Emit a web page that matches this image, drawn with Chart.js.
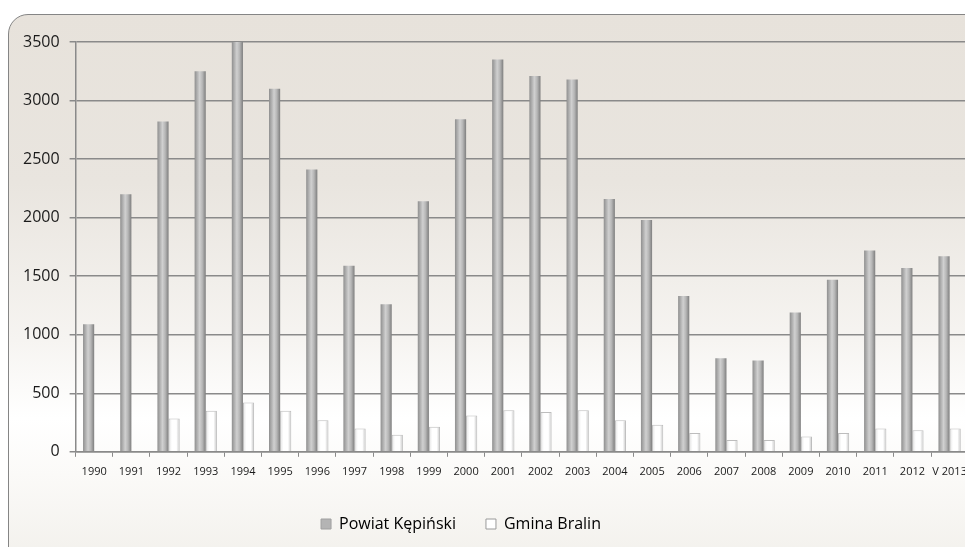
<!DOCTYPE html>
<html>
<head>
<meta charset="utf-8">
<script src="https://cdn.jsdelivr.net/npm/chart.js@4.4.1/dist/chart.umd.min.js"></script>
<style>
  html, body { margin: 0; padding: 0; width: 965px; height: 547px; overflow: hidden; background: #fff; }
  #frame {
    position: absolute; left: 8px; top: 14px; width: 990px; height: 560px;
    border: 1.5px solid #858585; border-radius: 20px;
    background: linear-gradient(to bottom, #e7e2db 0%, #e9e5df 30%, #f6f4f1 58%, #ffffff 72%, #fbfaf8 82%, #f1efea 100%);
  }
  #wrap { position: absolute; left: 0; top: 0; width: 975px; height: 547px; }
</style>
</head>
<body>
<div id="frame"></div>
<div id="wrap"><canvas id="myChart"></canvas></div>
<script>
const years = ['1990', '1991', '1992', '1993', '1994', '1995', '1996', '1997', '1998', '1999', '2000', '2001',
               '2002', '2003', '2004', '2005', '2006', '2007', '2008', '2009', '2010', '2011', '2012', 'V 2013'];
const powiatKepinski = [1090, 2200, 2820, 3250, 3500, 3100, 2410, 1590, 1260, 2140, 2840, 3350,
                        3210, 3180, 2160, 1980, 1330, 800, 780, 1190, 1470, 1720, 1570, 1670];
const gminaBralin = [0, 0, 285, 350, 420, 350, 270, 200, 145, 215, 310, 355,
                     340, 355, 270, 230, 160, 100, 100, 130, 160, 200, 185, 200];
const yTicks = [0, 500, 1000, 1500, 2000, 2500, 3000, 3500];

const CAT_PCT = 0.6;
const LEGEND_SHIFT = -31; // legend sits left of centre in the original

// horizontal shading for each bar, computed from the x scale
function barFill(stops) {
    return function(context) {
        const chart = context.chart;
        const xs = chart.scales.x;
        if (!xs || context.dataIndex === undefined) return stops[1][1];
        const center = xs.getPixelForValue(context.dataIndex);
        const w = xs.width / years.length * CAT_PCT / 2;
        const left = context.datasetIndex === 0 ? center - w : center;
        const g = chart.ctx.createLinearGradient(left, 0, left + w, 0);
        stops.forEach(s => g.addColorStop(s[0], s[1]));
        return g;
    };
}

const shiftLegend = {
    id: 'shiftLegend',
    afterLayout(chart) {
        if (chart.legend) {
            chart.legend.left += LEGEND_SHIFT;
            chart.legend.right += LEGEND_SHIFT;
        }
    }
};

const ctx = document.getElementById('myChart').getContext('2d');
const myChart = new Chart(ctx, {
    type: 'bar',
    data: {
        labels: years,
        datasets: [
            {
                label: 'Powiat Kępiński',
                data: powiatKepinski,
                backgroundColor: barFill([[0, '#8f8f8f'], [0.45, '#d0d0d0'], [0.7, '#b6b6b6'], [1, '#7e7e7e']]),
                borderWidth: 0,
                categoryPercentage: CAT_PCT,
                barPercentage: 1
            },
            {
                label: 'Gmina Bralin',
                data: gminaBralin,
                backgroundColor: barFill([[0, '#e2e2e2'], [0.3, '#ffffff'], [0.7, '#ffffff'], [1, '#c2c2c2']]),
                borderColor: '#bdbdbd',
                borderWidth: 1,
                categoryPercentage: CAT_PCT,
                barPercentage: 1
            }
        ]
    },
    plugins: [shiftLegend],
    options: {
        responsive: true,
        maintainAspectRatio: false,
        animation: false,
        layout: { padding: { left: 13, top: 42, right: 4, bottom: 5 } },
        plugins: {
            tooltip: { enabled: false },
            legend: {
                position: 'bottom',
                labels: {
                    font: { family: 'Open Sans', size: 16 },
                    color: '#1a1a1a',
                    boxWidth: 10,
                    boxHeight: 10,
                    padding: 30,
                    generateLabels: function(chart) {
                        return [
                            { text: 'Powiat Kępiński', fillStyle: '#b4b4b4', strokeStyle: '#a0a0a0', lineWidth: 1, datasetIndex: 0 },
                            { text: 'Gmina Bralin', fillStyle: '#ffffff', strokeStyle: '#9a9a9a', lineWidth: 1, datasetIndex: 1 }
                        ];
                    }
                }
            }
        },
        scales: {
            y: {
                min: 0,
                max: 3500,
                afterBuildTicks: function(axis) {
                    axis.ticks = yTicks.map(v => ({ value: v }));
                },
                ticks: {
                    font: { family: 'Open Sans', size: 16 },
                    color: '#1a1a1a',
                    padding: 10,
                    callback: v => String(v)
                },
                grid: { color: '#8a8a8a', lineWidth: 1.5, tickLength: 6 },
                border: { color: '#8a8a8a', width: 1.5 }
            },
            x: {
                ticks: {
                    font: { family: 'Open Sans', size: 11 },
                    color: '#1a1a1a',
                    maxRotation: 0,
                    autoSkip: false,
                    padding: 8
                },
                grid: { drawOnChartArea: false, color: '#8a8a8a', tickLength: 5, offset: true },
                border: { color: '#8a8a8a', width: 1.5 }
            }
        }
    }
});
</script>
</body>
</html>
